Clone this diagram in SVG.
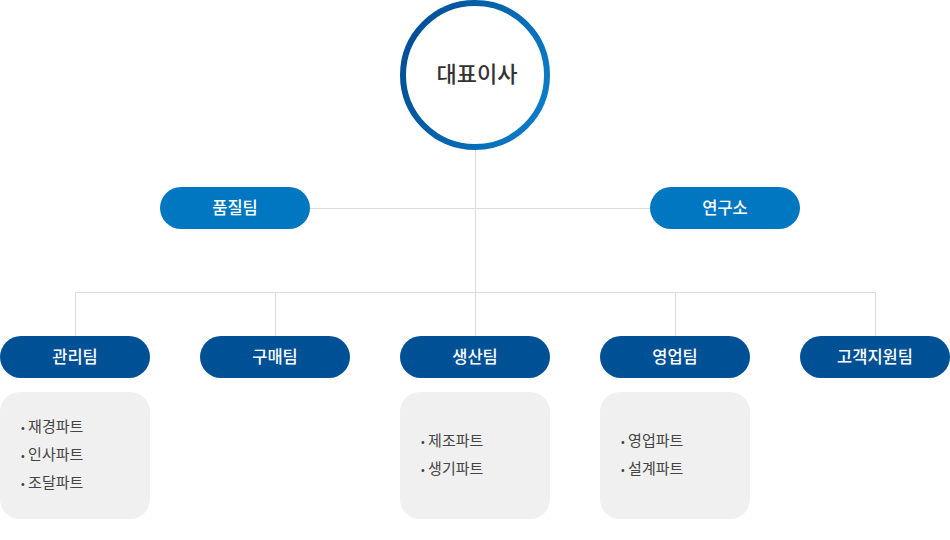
<svg xmlns="http://www.w3.org/2000/svg" width="950" height="540" viewBox="0 0 950 540">
<defs>
<linearGradient id="ring" x1="0" y1="0.3" x2="1" y2="0.7">
<stop offset="0" stop-color="#004f96"/>
<stop offset="1" stop-color="#0a7cc8"/>
</linearGradient>
<style>
.ln{stroke:#dcdcdc;stroke-width:1;fill:none}
.pl{fill:#0077c0}
.pd{fill:#005096}
.pt{font-family:"Noto Sans CJK KR","Noto Sans",sans-serif;font-size:16.5px;font-weight:500;fill:#fff;text-anchor:middle}
.bx{fill:#f0f0f0}
.it{font-family:"Noto Sans CJK KR","Noto Sans",sans-serif;font-size:15px;fill:#444}
.bu{font-size:11px}
</style>
</defs>
<g id="connectors">
<line class="ln" x1="475.5" y1="150" x2="475.5" y2="292"/>
<line class="ln" x1="310" y1="208.5" x2="650" y2="208.5"/>
<path class="ln" d="M75.5 336V292.5H875.5V336M275.5 292.5V336M475.5 292.5V336M675.5 292.5V336"/>
</g>
<g id="ceo">
<circle cx="475" cy="75" r="72" fill="#fff" stroke="url(#ring)" stroke-width="6"/>
<text x="477" y="82" font-family="'Noto Sans CJK KR','Noto Sans',sans-serif" font-size="22" font-weight="500" fill="#333" text-anchor="middle">대표이사</text>
</g>
<g id="quality"><rect class="pl" x="160" y="187" width="150" height="42" rx="21"/><text class="pt" x="235" y="214">품질팀</text></g>
<g id="lab"><rect class="pl" x="650" y="187" width="150" height="42" rx="21"/><text class="pt" x="725" y="214">연구소</text></g>
<g id="admin"><rect class="pd" x="0" y="336" width="150" height="42" rx="21"/><text class="pt" x="75" y="363">관리팀</text>
<rect class="bx" x="0" y="392" width="150" height="127" rx="20"/>
<text class="it" x="21" y="432"><tspan class="bu">•</tspan> 재경파트</text><text class="it" x="21" y="460"><tspan class="bu">•</tspan> 인사파트</text><text class="it" x="21" y="488"><tspan class="bu">•</tspan> 조달파트</text></g>
<g id="purchase"><rect class="pd" x="200" y="336" width="150" height="42" rx="21"/><text class="pt" x="275" y="363">구매팀</text></g>
<g id="production"><rect class="pd" x="400" y="336" width="150" height="42" rx="21"/><text class="pt" x="475" y="363">생산팀</text>
<rect class="bx" x="400" y="392" width="150" height="127" rx="20"/>
<text class="it" x="421" y="446"><tspan class="bu">•</tspan> 제조파트</text><text class="it" x="421" y="474"><tspan class="bu">•</tspan> 생기파트</text></g>
<g id="sales"><rect class="pd" x="600" y="336" width="150" height="42" rx="21"/><text class="pt" x="675" y="363">영업팀</text>
<rect class="bx" x="600" y="392" width="150" height="127" rx="20"/>
<text class="it" x="621" y="446"><tspan class="bu">•</tspan> 영업파트</text><text class="it" x="621" y="474"><tspan class="bu">•</tspan> 설계파트</text></g>
<g id="support"><rect class="pd" x="800" y="336" width="150" height="42" rx="21"/><text class="pt" x="875" y="363">고객지원팀</text></g>
</svg>
